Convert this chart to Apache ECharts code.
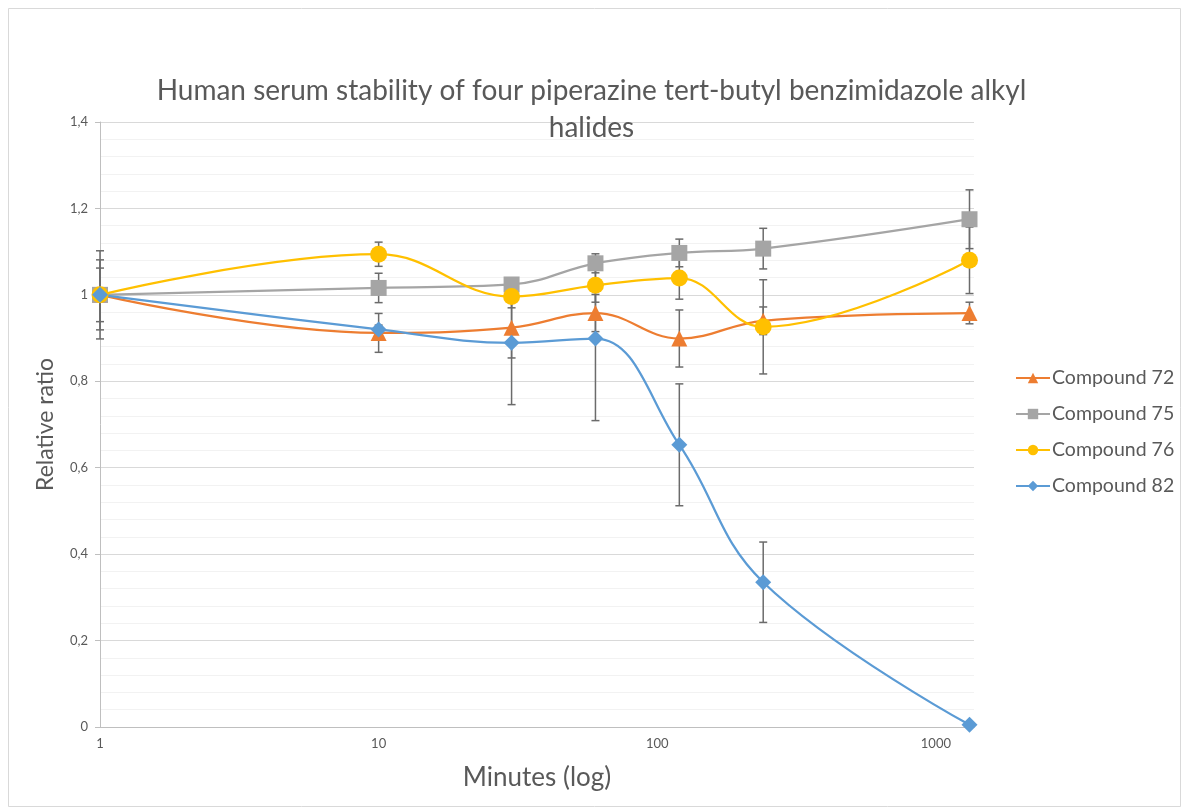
<!DOCTYPE html>
<html>
<head>
<meta charset="utf-8">
<script src="https://cdn.jsdelivr.net/npm/echarts@6/dist/echarts.min.js"></script>
<style>
  html, body { margin: 0; padding: 0; background: #fff; }
  #chart { width: 1183px; height: 809px; }
</style>
</head>
<body>
<div id="chart"></div>
<script>
// Sampling times (minutes)
const minutes = [1, 10, 30, 60, 120, 240, 1320];

// Relative ratio per compound
const c72 = [1.000, 0.912, 0.924, 0.958, 0.899, 0.940, 0.958];
const c75 = [1.000, 1.016, 1.024, 1.073, 1.097, 1.107, 1.175];
const c76 = [1.000, 1.094, 0.996, 1.022, 1.039, 0.926, 1.080];
const c82 = [1.000, 0.920, 0.889, 0.899, 0.653, 0.335, 0.005];

// Standard deviations (± error)
const e72 = [0.081, 0.045, 0.070, 0.043, 0.066, 0.032, 0.025];
const e75 = [0.000, 0.034, 0.010, 0.022, 0.032, 0.047, 0.068];
const e76 = [0.102, 0.028, 0.026, 0.039, 0.049, 0.109, 0.077];
const e82 = [0.062, 0.010, 0.143, 0.190, 0.141, 0.093, 0.000];

const yTicks = [0, 0.2, 0.4, 0.6, 0.8, 1, 1.2, 1.4];

const FONT = 'Lato, "Open Sans", sans-serif';
const TEXT = '#595959';

const compounds = [
  { name: 'Compound 72', values: c72, err: e72, color: '#ED7D31', symbol: 'triangle', size: 16 },
  { name: 'Compound 75', values: c75, err: e75, color: '#A5A5A5', symbol: 'rect', size: 16 },
  { name: 'Compound 76', values: c76, err: e76, color: '#FFC000', symbol: 'circle', size: 17 },
  { name: 'Compound 82', values: c82, err: e82, color: '#5B9BD5', symbol: 'diamond', size: 16 }
];

function errorBarRenderer(params, api) {
  const x = api.value(0);
  const y = api.value(1);
  const e = api.value(2);
  if (!e) return null;
  const hi = api.coord([x, y + e]);
  const lo = api.coord([x, y - e]);
  const cap = 4;
  const style = { stroke: '#6B6B6B', lineWidth: 1.5 };
  return {
    type: 'group',
    children: [
      { type: 'line', shape: { x1: hi[0], y1: hi[1], x2: lo[0], y2: lo[1] }, style },
      { type: 'line', shape: { x1: hi[0] - cap, y1: hi[1], x2: hi[0] + cap, y2: hi[1] }, style },
      { type: 'line', shape: { x1: lo[0] - cap, y1: lo[1], x2: lo[0] + cap, y2: lo[1] }, style }
    ]
  };
}

const series = [];
compounds.forEach(c => {
  series.push({
    name: c.name + ' error',
    type: 'custom',
    renderItem: errorBarRenderer,
    data: minutes.map((m, i) => [m, c.values[i], c.err[i]]),
    encode: { x: 0, y: 1 },
    z: 1,
    silent: true
  });
});
compounds.forEach(c => {
  series.push({
    name: c.name,
    type: 'line',
    smooth: 0.4,
    data: minutes.map((m, i) => [m, c.values[i]]),
    symbol: c.symbol,
    symbolSize: c.size,
    lineStyle: { color: c.color, width: 2.25 },
    itemStyle: { color: c.color },
    z: 3
  });
});

const chart = echarts.init(document.getElementById('chart'));
chart.setOption({
  animation: false,
  backgroundColor: '#fff',
  graphic: [{
    type: 'rect',
    shape: { x: 8.5, y: 8.5, width: 1172, height: 798 },
    style: { fill: null, stroke: '#D9D9D9', lineWidth: 1 },
    silent: true,
    z: -10
  }],
  title: {
    text: 'Human serum stability of four piperazine tert-butyl benzimidazole alkyl\nhalides',
    left: 'center',
    top: 67,
    textStyle: { fontFamily: FONT, fontSize: 28, fontWeight: 'normal', color: TEXT, lineHeight: 37 }
  },
  legend: {
    data: compounds.map(c => c.name),
    orient: 'vertical',
    left: 1010,
    top: 363,
    itemGap: 16,
    itemWidth: 34,
    itemHeight: 13,
    textStyle: { fontFamily: FONT, fontSize: 19.5, color: TEXT, padding: [0, 0, 0, -3] }
  },
  grid: { left: 100, right: 209, top: 122, bottom: 82 },
  xAxis: {
    type: 'log',
    logBase: 10,
    min: 1,
    max: 1370,
    name: 'Minutes (log)',
    nameLocation: 'middle',
    nameGap: 38,
    nameTextStyle: { fontFamily: FONT, fontSize: 26, color: TEXT },
    axisLine: { lineStyle: { color: '#BFBFBF', width: 1 } },
    axisTick: { show: false },
    splitLine: { show: false },
    axisLabel: {
      fontFamily: FONT, fontSize: 13, color: TEXT, margin: 10,
      formatter: v => {
        const l = Math.log10(v);
        return Math.abs(l - Math.round(l)) < 1e-6 ? String(Math.round(v)) : '';
      }
    }
  },
  yAxis: {
    type: 'value',
    min: yTicks[0],
    max: yTicks[yTicks.length - 1],
    interval: 0.2,
    name: 'Relative ratio',
    nameLocation: 'middle',
    nameGap: 43,
    nameRotate: 90,
    nameTextStyle: { fontFamily: FONT, fontSize: 23, color: TEXT },
    axisLine: { show: true, lineStyle: { color: '#BFBFBF', width: 1 } },
    axisTick: { show: true, length: 5, lineStyle: { color: '#BFBFBF' } },
    minorTick: { show: false, splitNumber: 5 },
    splitLine: { show: true, lineStyle: { color: '#D9D9D9', width: 1 } },
    minorSplitLine: { show: true, lineStyle: { color: '#F2F2F2', width: 1 } },
    axisLabel: {
      fontFamily: FONT, fontSize: 13, color: TEXT, margin: 12,
      formatter: v => String(Number(v.toFixed(2))).replace('.', ',')
    }
  },
  series
});
</script>
</body>
</html>
